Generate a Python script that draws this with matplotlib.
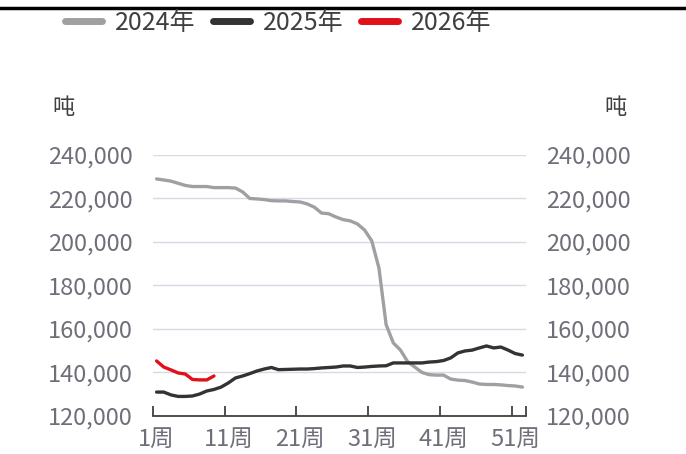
import matplotlib
matplotlib.use("Agg")
import matplotlib.pyplot as plt
from matplotlib.lines import Line2D
import numpy as np

plt.rcParams['font.family'] = ['Noto Sans CJK SC', 'DejaVu Sans']

weeks = np.arange(1, 53)

# 2024 weekly values (t)
y2024 = [229000, 228500, 228000, 227000, 226000, 225500, 225500, 225500, 225000, 225000,
         225000, 224800, 223000, 220000, 219800, 219500, 219000, 218900, 218900, 218600,
         218400, 217500, 216000, 213300, 213000, 211500, 210300, 209700, 208300, 205500,
         200500, 188000, 162000, 153600, 150300, 145000, 142500, 140000, 139000, 138800,
         138800, 137000, 136500, 136300, 135600, 134700, 134500, 134500, 134300, 134000,
         133800, 133300]

# 2025 weekly values (t)
y2025 = [131000, 131000, 129700, 129000, 129000, 129200, 130100, 131500, 132200, 133300,
         135200, 137500, 138400, 139500, 140700, 141600, 142300, 141300, 141400, 141500,
         141600, 141600, 141800, 142100, 142300, 142500, 143000, 143000, 142300, 142500,
         142800, 143000, 143100, 144400, 144400, 144400, 144400, 144400, 144800, 145000,
         145500, 146700, 149000, 149900, 150300, 151300, 152200, 151300, 151700, 150300,
         148700, 148000]

# 2026 so far
y2026 = [145300, 142500, 141200, 139800, 139300, 136800, 136600, 136600, 138400]

yticks = [120000, 140000, 160000, 180000, 200000, 220000, 240000]
xlabels = ['1周', '11周', '21周', '31周', '41周', '51周']

label_color = '#6F6F7A'

fig = plt.figure(figsize=(6.86, 4.54), dpi=100)
ax = fig.add_axes([153 / 686, 38 / 454, 373 / 686, 261 / 454])

ax.plot(weeks, y2024, color='#A0A0A2', lw=2.4, label='2024年', solid_capstyle='round')
ax.plot(weeks, y2025, color='#333333', lw=2.4, label='2025年', solid_capstyle='round')
ax.plot(weeks[:len(y2026)], y2026, color='#E0101C', lw=2.4, label='2026年', solid_capstyle='round')

ax.set_xlim(0.5, 52.5)
ax.set_ylim(120000, 240000)
ax.set_yticks(yticks)
ax.set_yticklabels([f'{v:,}' for v in yticks])
ax.grid(axis='y', color='#D9D9E6', lw=1)
ax.set_axisbelow(True)

ax.tick_params(axis='y', left=False, right=False, labelleft=True, labelright=True,
               labelsize=17, labelcolor=label_color, pad=11)

# labels centred on weeks, tick marks on category boundaries
ax.set_xticks([1, 11, 21, 31, 41, 51])
ax.set_xticklabels(xlabels)
ax.set_xticks([0.5, 10.5, 20.5, 30.5, 40.5, 50.5, 52.5], minor=True)
ax.tick_params(axis='x', which='major', length=0, labelsize=17, labelcolor=label_color, pad=9)
ax.tick_params(axis='x', which='minor', direction='in', length=7, width=1.3, color='#404040')

for s in ['top', 'left', 'right']:
    ax.spines[s].set_visible(False)
ax.spines['bottom'].set_color('#404040')
ax.spines['bottom'].set_linewidth(1.3)

fig.text(63 / 686, 1 - 108 / 454, '吨', fontsize=16, color='#404040', ha='center', va='center')
fig.text(616 / 686, 1 - 108 / 454, '吨', fontsize=16, color='#404040', ha='center', va='center')

leg = fig.legend(loc='center', bbox_to_anchor=(278 / 686, 1 - 23 / 454), ncol=3, frameon=False,
                 fontsize=18, handlelength=1.5, handletextpad=0.5, columnspacing=0.7,
                 labelcolor='#404040')
for h in leg.get_lines():
    h.set_linewidth(5)

fig.add_artist(Line2D([0, 1], [1 - 8 / 454, 1 - 8 / 454], transform=fig.transFigure,
                      color='black', lw=2.5))

fig.savefig('out.png', dpi=100)
